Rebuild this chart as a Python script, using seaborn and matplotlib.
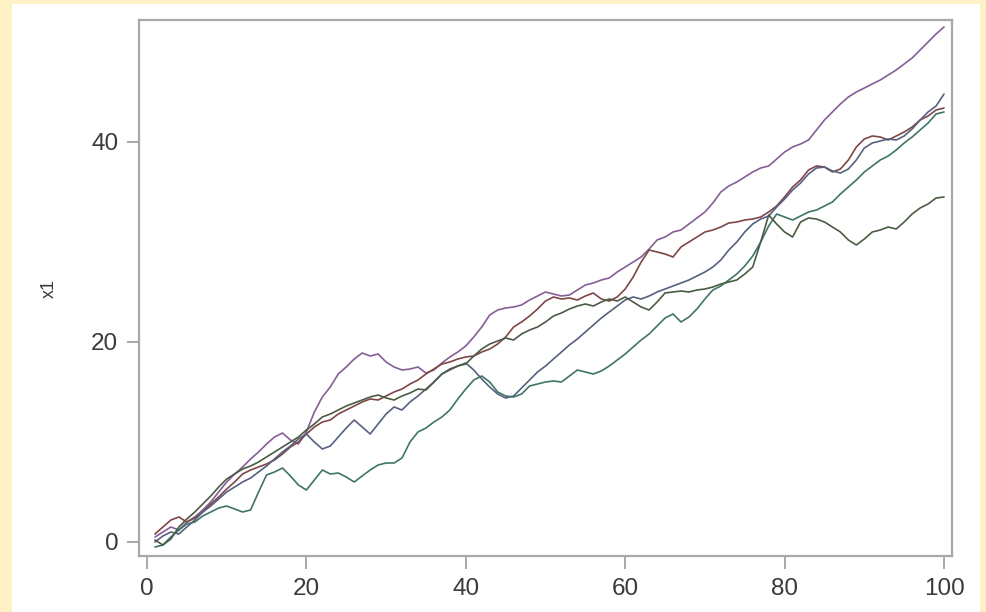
import numpy as np
import pandas as pd
import matplotlib
matplotlib.use("Agg")
import matplotlib.pyplot as plt
import seaborn as sns
from matplotlib.patches import Rectangle

sns.set_theme(style="white")
plt.rcParams['font.family'] = ['Liberation Sans', 'DejaVu Sans']

steps = list(range(1, 101))

purple = [0.5, 1.0, 1.5, 1.2, 2.0, 2.5, 3.2, 4.0, 5.0, 6.0,
          6.8, 7.5, 8.3, 9.0, 9.8, 10.5, 10.9, 10.2, 9.8, 11.0,
          13.0, 14.5, 15.5, 16.8, 17.5, 18.3, 18.9, 18.6, 18.8, 18.0,
          17.5, 17.2, 17.3, 17.5, 16.9, 17.2, 17.9, 18.5, 19.0, 19.6,
          20.5, 21.5, 22.7, 23.2, 23.4, 23.5, 23.7, 24.2, 24.6, 25.0,
          24.8, 24.6, 24.7, 25.2, 25.7, 25.9, 26.2, 26.4, 27.0, 27.5,
          28.0, 28.5, 29.3, 30.2, 30.5, 31.0, 31.2, 31.8, 32.4, 33.0,
          33.9, 35.0, 35.6, 36.0, 36.5, 37.0, 37.4, 37.6, 38.3, 39.0,
          39.5, 39.8, 40.2, 41.2, 42.2, 43.0, 43.8, 44.5, 45.0, 45.4,
          45.8, 46.2, 46.7, 47.2, 47.8, 48.4, 49.2, 50.0, 50.8, 51.5]

red = [0.8, 1.5, 2.2, 2.5, 2.0, 2.4, 3.0, 3.8, 4.5, 5.3,
       6.0, 6.8, 7.2, 7.5, 7.8, 8.2, 8.8, 9.5, 10.0, 10.8,
       11.5, 12.0, 12.2, 12.8, 13.2, 13.6, 14.0, 14.3, 14.2, 14.6,
       15.0, 15.3, 15.8, 16.2, 16.8, 17.3, 17.8, 18.0, 18.3, 18.5,
       18.6, 19.0, 19.3, 19.8, 20.5, 21.5, 22.0, 22.6, 23.3, 24.1,
       24.5, 24.3, 24.4, 24.2, 24.6, 24.9, 24.3, 24.1, 24.5, 25.3,
       26.5, 28.0, 29.2, 29.0, 28.8, 28.5, 29.5, 30.0, 30.5, 31.0,
       31.2, 31.5, 31.9, 32.0, 32.2, 32.3, 32.5, 33.0, 33.6, 34.5,
       35.5, 36.2, 37.2, 37.6, 37.5, 37.0, 37.3, 38.2, 39.5, 40.3,
       40.6, 40.5, 40.2, 40.6, 41.0, 41.5, 42.2, 42.6, 43.2, 43.4]

slate = [0.0, 0.6, 1.0, 0.8, 1.5, 2.2, 3.0, 3.6, 4.3, 5.0,
         5.5, 6.0, 6.4, 7.0, 7.6, 8.3, 9.0, 9.6, 10.3, 10.8,
         10.0, 9.3, 9.6, 10.5, 11.4, 12.2, 11.5, 10.8, 11.8, 12.8,
         13.5, 13.2, 14.0, 14.6, 15.3, 16.0, 16.8, 17.2, 17.6, 17.9,
         17.2, 16.3, 15.5, 14.8, 14.4, 14.6, 15.4, 16.2, 17.0, 17.6,
         18.3, 19.0, 19.7, 20.3, 21.0, 21.7, 22.4, 23.0, 23.6, 24.2,
         24.5, 24.3, 24.6, 25.0, 25.3, 25.6, 25.9, 26.2, 26.6, 27.0,
         27.5, 28.2, 29.2, 30.0, 31.0, 31.8, 32.3, 32.6, 33.5, 34.3,
         35.2, 35.9, 36.8, 37.4, 37.5, 37.1, 36.9, 37.3, 38.2, 39.4,
         39.9, 40.1, 40.3, 40.2, 40.6, 41.3, 42.2, 43.0, 43.6, 44.8]

teal = [-0.5, -0.3, 0.5, 1.2, 1.8, 2.0, 2.6, 3.0, 3.4, 3.6,
        3.3, 3.0, 3.2, 5.0, 6.7, 7.0, 7.4, 6.6, 5.7, 5.2,
        6.2, 7.2, 6.8, 6.9, 6.5, 6.0, 6.6, 7.2, 7.7, 7.9,
        7.9, 8.4, 10.0, 11.0, 11.4, 12.0, 12.5, 13.2, 14.3, 15.3,
        16.2, 16.6, 16.0, 15.0, 14.6, 14.5, 14.8, 15.6, 15.8, 16.0,
        16.1, 16.0, 16.6, 17.2, 17.0, 16.8, 17.1, 17.6, 18.2, 18.8,
        19.5, 20.2, 20.8, 21.6, 22.4, 22.8, 22.0, 22.5, 23.3, 24.3,
        25.2, 25.6, 26.2, 26.8, 27.6, 28.6, 30.0, 31.6, 32.8, 32.5,
        32.2, 32.6, 33.0, 33.2, 33.6, 34.0, 34.8, 35.5, 36.2, 37.0,
        37.6, 38.2, 38.6, 39.2, 39.9, 40.5, 41.2, 41.9, 42.8, 43.0]

green = [0.2, -0.3, 0.3, 1.5, 2.3, 3.0, 3.8, 4.6, 5.5, 6.3,
         6.8, 7.3, 7.6, 8.0, 8.5, 9.0, 9.5, 10.0, 10.5, 11.2,
         11.8, 12.5, 12.8, 13.2, 13.6, 13.9, 14.2, 14.5, 14.7, 14.4,
         14.2, 14.6, 14.9, 15.3, 15.2, 16.0, 16.8, 17.3, 17.6, 17.8,
         18.6, 19.3, 19.8, 20.1, 20.4, 20.2, 20.8, 21.2, 21.5, 22.0,
         22.6, 22.9, 23.3, 23.6, 23.8, 23.6, 24.0, 24.3, 24.1, 24.5,
         24.0, 23.5, 23.2, 24.0, 24.9, 25.0, 25.1, 25.0, 25.2, 25.3,
         25.5, 25.8, 26.0, 26.2, 26.8, 27.5, 30.0, 32.7, 31.8, 31.0,
         30.5, 32.0, 32.4, 32.3, 32.0, 31.5, 31.0, 30.2, 29.7, 30.3,
         31.0, 31.2, 31.5, 31.3, 32.0, 32.8, 33.4, 33.8, 34.4, 34.5]

series_names = ["purple", "red", "slate", "teal", "green"]
series_values = [purple, red, slate, teal, green]
series_colors = ["#855E97", "#7F4646", "#55617F", "#3F7469", "#4A5C43"]

df = pd.DataFrame({
    "step": np.tile(steps, len(series_names)),
    "x1": np.concatenate(series_values),
    "series": np.repeat(series_names, len(steps)),
})

fig = plt.figure(figsize=(9.86, 6.12), dpi=100)
fig.patch.set_facecolor("#FFF1C6")
bg = Rectangle((12 / 986, 0), 968 / 986, 608 / 612,
               transform=fig.transFigure, facecolor="white",
               edgecolor="none", zorder=-10)
fig.add_artist(bg)

ax = fig.add_axes([139 / 986, 56 / 612, 813 / 986, 536 / 612])
ax.set_zorder(5)
ax.set_facecolor("white")
sns.lineplot(data=df, x="step", y="x1", hue="series", hue_order=series_names,
             palette=dict(zip(series_names, series_colors)), linewidth=1.2,
             legend=False, ax=ax, estimator=None, sort=False)

ax.set_xlim(-1, 101)
ax.set_ylim(-1.4, 52.2)
ax.set_xticks([0, 20, 40, 60, 80, 100])
ax.set_yticks([0, 20, 40])
ax.set_xlabel("")
ax.set_ylabel("x1", fontsize=13, color="#3A3A3A", labelpad=24)

for sp in ax.spines.values():
    sp.set_color("#A8A8A8")
    sp.set_linewidth(1.6)
ax.tick_params(axis="both", which="major", direction="out", length=9,
               width=1.2, color="#9A9A9A", labelsize=17.5, labelcolor="#3A3A3A",
               left=True, bottom=True)
ax.tick_params(axis="x", pad=7)
ax.tick_params(axis="y", pad=6)

fig.savefig("out.png", dpi=100, facecolor=fig.get_facecolor())
